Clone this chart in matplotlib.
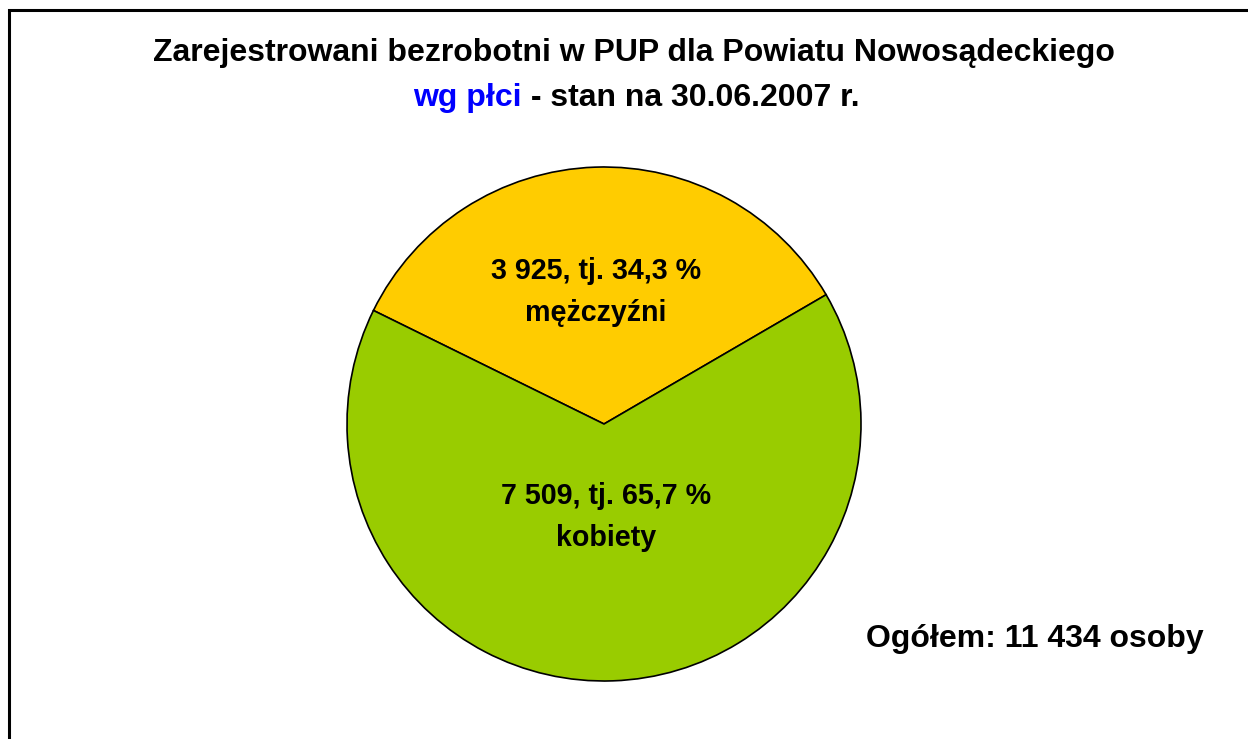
import matplotlib
matplotlib.use("Agg")
import matplotlib.pyplot as plt
from matplotlib.patches import Rectangle

# dane
kategorie = ['mężczyźni', 'kobiety']
wartosci = [3925, 7509]
procenty = ['34,3', '65,7']
kolory = ['#FFCC00', '#99CC00']
ogolem = '11 434'

plt.rcParams['font.family'] = ['Liberation Sans', 'DejaVu Sans']
plt.rcParams['font.weight'] = 'bold'

W, H = 1248, 739
fig = plt.figure(figsize=(W / 100, H / 100), dpi=100)

# ramka wykresu (wychodzi poza prawą i dolną krawędź)
fig.patches.append(Rectangle((9 / W, -0.1), 1.2, 1 - 10 / H + 0.1,
                             transform=fig.transFigure, fill=False,
                             edgecolor='black', linewidth=2.2))

# koło
cx, cy, r = 604, 424, 257
ax = fig.add_axes([(cx - r) / W, (H - cy - r) / H, 2 * r / W, 2 * r / H])
ax.pie(wartosci, colors=kolory, startangle=30.2, counterclock=True,
       wedgeprops={'edgecolor': 'black', 'linewidth': 1.2})
ax.set_xlim(-1, 1)
ax.set_ylim(-1, 1)
ax.set_aspect('auto')
ax.axis('off')

def fy(y):
    return 1 - y / H

# tytuł
fig.text(634 / W, fy(53), 'Zarejestrowani bezrobotni w PUP dla Powiatu Nowosądeckiego',
         ha='center', va='center', fontsize=23, fontweight='bold')
fig.text(522 / W, fy(98), 'wg płci', ha='right', va='center',
         fontsize=23, fontweight='bold', color='#0000FF')
fig.text(522 / W, fy(98), ' - stan na 30.06.2007 r.', ha='left', va='center',
         fontsize=23, fontweight='bold', color='black')

# etykiety wycinków
pozycje = [(596, 292), (606, 517)]
for kat, w, p, (x, y) in zip(kategorie, wartosci, procenty, pozycje):
    liczba = f'{w:,}'.replace(',', ' ')
    fig.text(x / W, fy(y), f'{liczba}, tj. {p} %\n{kat}', ha='center', va='center',
             fontsize=20.6, fontweight='bold', linespacing=1.6)

fig.text(1035 / W, fy(639), f'Ogółem: {ogolem} osoby', ha='center', va='center',
         fontsize=23, fontweight='bold')

fig.savefig('out.png', dpi=100, facecolor='white')
